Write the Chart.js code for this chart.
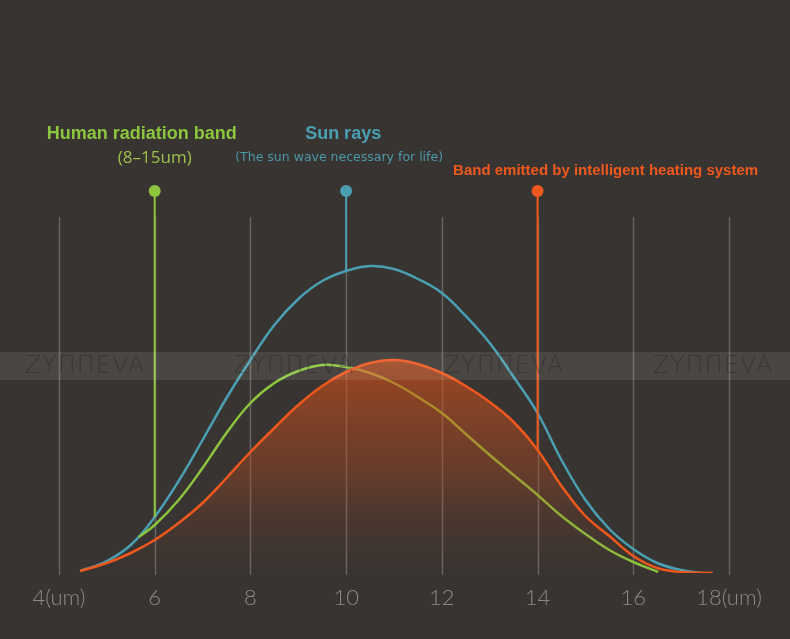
<!DOCTYPE html>
<html>
<head>
<meta charset="utf-8">
<script src="https://cdn.jsdelivr.net/npm/chart.js@4.4.0/dist/chart.umd.min.js"></script>
<style>
  html, body { margin: 0; padding: 0; background: #383431; }
  #wrap { width: 790px; height: 639px; position: relative; }
</style>
</head>
<body>
<div id="wrap"><canvas id="chart"></canvas></div>
<script>
// wavelength ticks (um)
const tickValues = [4, 6, 8, 10, 12, 14, 16, 18];
const tickLabels = ['4(um)', '6', '8', '10', '12', '14', '16', '18(um)'];

// sun rays (blue)
const sunX = [4.44, 5, 5.5, 6, 6.5, 7, 7.5, 8, 8.5, 9, 9.5, 10, 10.5, 11, 11.5, 12, 12.5, 13, 13.5, 14, 14.5, 15, 15.5, 16, 16.5, 17, 17.4];
const sunY = [2, 12, 28, 56, 92, 133, 175, 213, 248, 274, 292, 302, 307, 304, 294, 280, 257, 230, 196, 160, 113, 73, 44, 24, 10, 3, 0];

// human radiation band (green)
const humanX = [5.67, 6, 6.5, 7, 7.5, 8, 8.5, 9, 9.5, 10, 10.5, 11, 11.5, 12, 12.5, 13, 13.5, 14, 14.5, 15, 15.5, 16, 16.52];
const humanY = [36, 48, 73, 105, 140, 170, 190, 202, 208, 206, 200, 190, 176, 160, 139, 118, 98, 78, 57, 39, 23, 11, 1];

// heating system band (orange)
const heatX = [4.44, 5, 5.5, 6, 6.5, 7, 7.5, 8, 8.5, 9, 9.5, 10, 10.5, 11, 11.5, 12, 12.5, 13, 13.5, 14, 14.5, 15, 15.5, 16, 16.5, 17, 17.66];
const heatY = [2, 10, 20, 33, 50, 70, 95, 121, 145, 168, 187, 201, 210, 213, 209, 200, 187, 171, 151, 123, 87, 57, 37, 17, 5, 1, 0];

// marker pins: x position, where the stem meets its curve, top of stem
const pinX = [6, 10, 14];
const pinBottom = [56, 302, 123];
const pinTop = 382;
const gridTop = 356;

const GREEN = '#8cc63e';
const BLUE = '#4a9fb3';
const ORANGE = '#ef581d';

const toPoints = (xs, ys) => xs.map((x, i) => ({ x, y: ys[i] }));

function pinDataset(i, color) {
    return {
        data: [{ x: pinX[i], y: pinBottom[i] }, { x: pinX[i], y: pinTop }],
        borderColor: color,
        backgroundColor: color,
        borderWidth: 2,
        pointRadius: [0, 6],
        pointBorderWidth: 0,
        tension: 0,
        order: 0,
    };
}

const bgPlugin = {
    id: 'bg',
    beforeDraw(chart) {
        const { ctx, width, height, scales: { x, y } } = chart;
        ctx.save();
        ctx.fillStyle = '#383431';
        ctx.fillRect(0, 0, width, height);
        // grey guide lines
        ctx.strokeStyle = 'rgba(150,148,145,0.5)';
        ctx.lineWidth = 1.5;
        tickValues.forEach(v => {
            const px = Math.round(x.getPixelForValue(v)) + 0.5;
            ctx.beginPath();
            ctx.moveTo(px, y.getPixelForValue(gridTop));
            ctx.lineTo(px, y.getPixelForValue(-2));
            ctx.stroke();
        });
        ctx.restore();
    },
    afterDatasetsDraw(chart) {
        const { ctx, width } = chart;
        ctx.save();
        // watermark strip
        ctx.fillStyle = 'rgba(255,255,255,0.09)';
        ctx.fillRect(0, 352, width, 28);
        ctx.fillStyle = 'rgba(30,28,26,0.35)';
        ctx.font = '200 24px "DejaVu Sans"';
        ctx.letterSpacing = '1px';
        ctx.textAlign = 'center';
        ctx.textBaseline = 'middle';
        [85, 294, 504, 713].forEach(cx => ctx.fillText('ZYΠΠEVA', cx, 367));
        ctx.restore();
    },
    afterDraw(chart) {
        const { ctx, scales: { x, y } } = chart;
        ctx.save();
        ctx.textAlign = 'center';
        ctx.textBaseline = 'middle';
        const topY = y.getPixelForValue(pinTop);

        ctx.fillStyle = GREEN;
        ctx.font = 'bold 18px "Liberation Sans"';
        ctx.fillText('Human radiation band', x.getPixelForValue(pinX[0]) - 13, topY - 57);
        ctx.font = '17px "Open Sans"';
        ctx.fillStyle = '#9dc14a';
        ctx.fillText('(8\u201315um)', x.getPixelForValue(pinX[0]), topY - 33);

        ctx.fillStyle = BLUE;
        ctx.font = 'bold 18px "Liberation Sans"';
        ctx.fillText('Sun rays', x.getPixelForValue(pinX[1]) - 3, topY - 57);
        ctx.font = '12.5px "DejaVu Sans"';
        ctx.fillStyle = '#4a98a8';
        ctx.fillText('(The sun wave necessary for life)', x.getPixelForValue(pinX[1]) - 7, topY - 33);

        ctx.fillStyle = ORANGE;
        ctx.font = 'bold 15px "Liberation Sans"';
        ctx.fillText('Band emitted by intelligent heating system', x.getPixelForValue(pinX[2]) + 68, topY - 20);
        ctx.restore();
    }
};

const ctx = document.getElementById('chart');
new Chart(ctx, {
    type: 'line',
    data: {
        datasets: [
            {
                label: 'Band emitted by intelligent heating system',
                data: toPoints(heatX, heatY),
                borderColor: ORANGE,
                borderWidth: 2.5,
                pointRadius: 0,
                tension: 0.4,
                fill: 'origin',
                backgroundColor(c) {
                    const area = c.chart.chartArea;
                    if (!area) return 'rgba(0,0,0,0)';
                    const yS = c.chart.scales.y;
                    const g = c.chart.ctx.createLinearGradient(0, yS.getPixelForValue(213), 0, yS.getPixelForValue(0));
                    g.addColorStop(0, 'rgba(220,82,25,0.62)');
                    g.addColorStop(0.55, 'rgba(190,75,30,0.32)');
                    g.addColorStop(1, 'rgba(120,60,40,0)');
                    return g;
                },
                order: 1,
            },
            {
                label: 'Human radiation band',
                data: toPoints(humanX, humanY),
                borderColor: GREEN,
                borderWidth: 2.5,
                pointRadius: 0,
                tension: 0.4,
                fill: false,
                order: 2,
            },
            {
                label: 'Sun rays',
                data: toPoints(sunX, sunY),
                borderColor: BLUE,
                borderWidth: 2.5,
                pointRadius: 0,
                tension: 0.4,
                fill: false,
                order: 3,
            },
            pinDataset(0, GREEN),
            pinDataset(1, BLUE),
            pinDataset(2, ORANGE),
        ]
    },
    options: {
        responsive: true,
        maintainAspectRatio: false,
        animation: false,
        layout: { padding: { left: 59, right: 61, top: 150, bottom: 0 } },
        plugins: { legend: { display: false }, tooltip: { enabled: false } },
        scales: {
            x: {
                type: 'linear',
                min: 4,
                max: 18,
                grid: { display: false },
                border: { display: false },
                afterBuildTicks(scale) {
                    scale.ticks = tickValues.map(v => ({ value: v }));
                },
                afterFit(scale) {
                    scale.height = 66;
                },
                ticks: {
                    color: '#8c8a88',
                    font: { family: 'Lato', size: 22, weight: '300' },
                    padding: 4,
                    maxRotation: 0,
                    autoSkip: false,
                    callback: (v) => tickLabels[tickValues.indexOf(v)],
                },
            },
            y: {
                display: false,
                min: 0,
                max: 423,
            }
        }
    },
    plugins: [bgPlugin]
});
</script>
</body>
</html>
